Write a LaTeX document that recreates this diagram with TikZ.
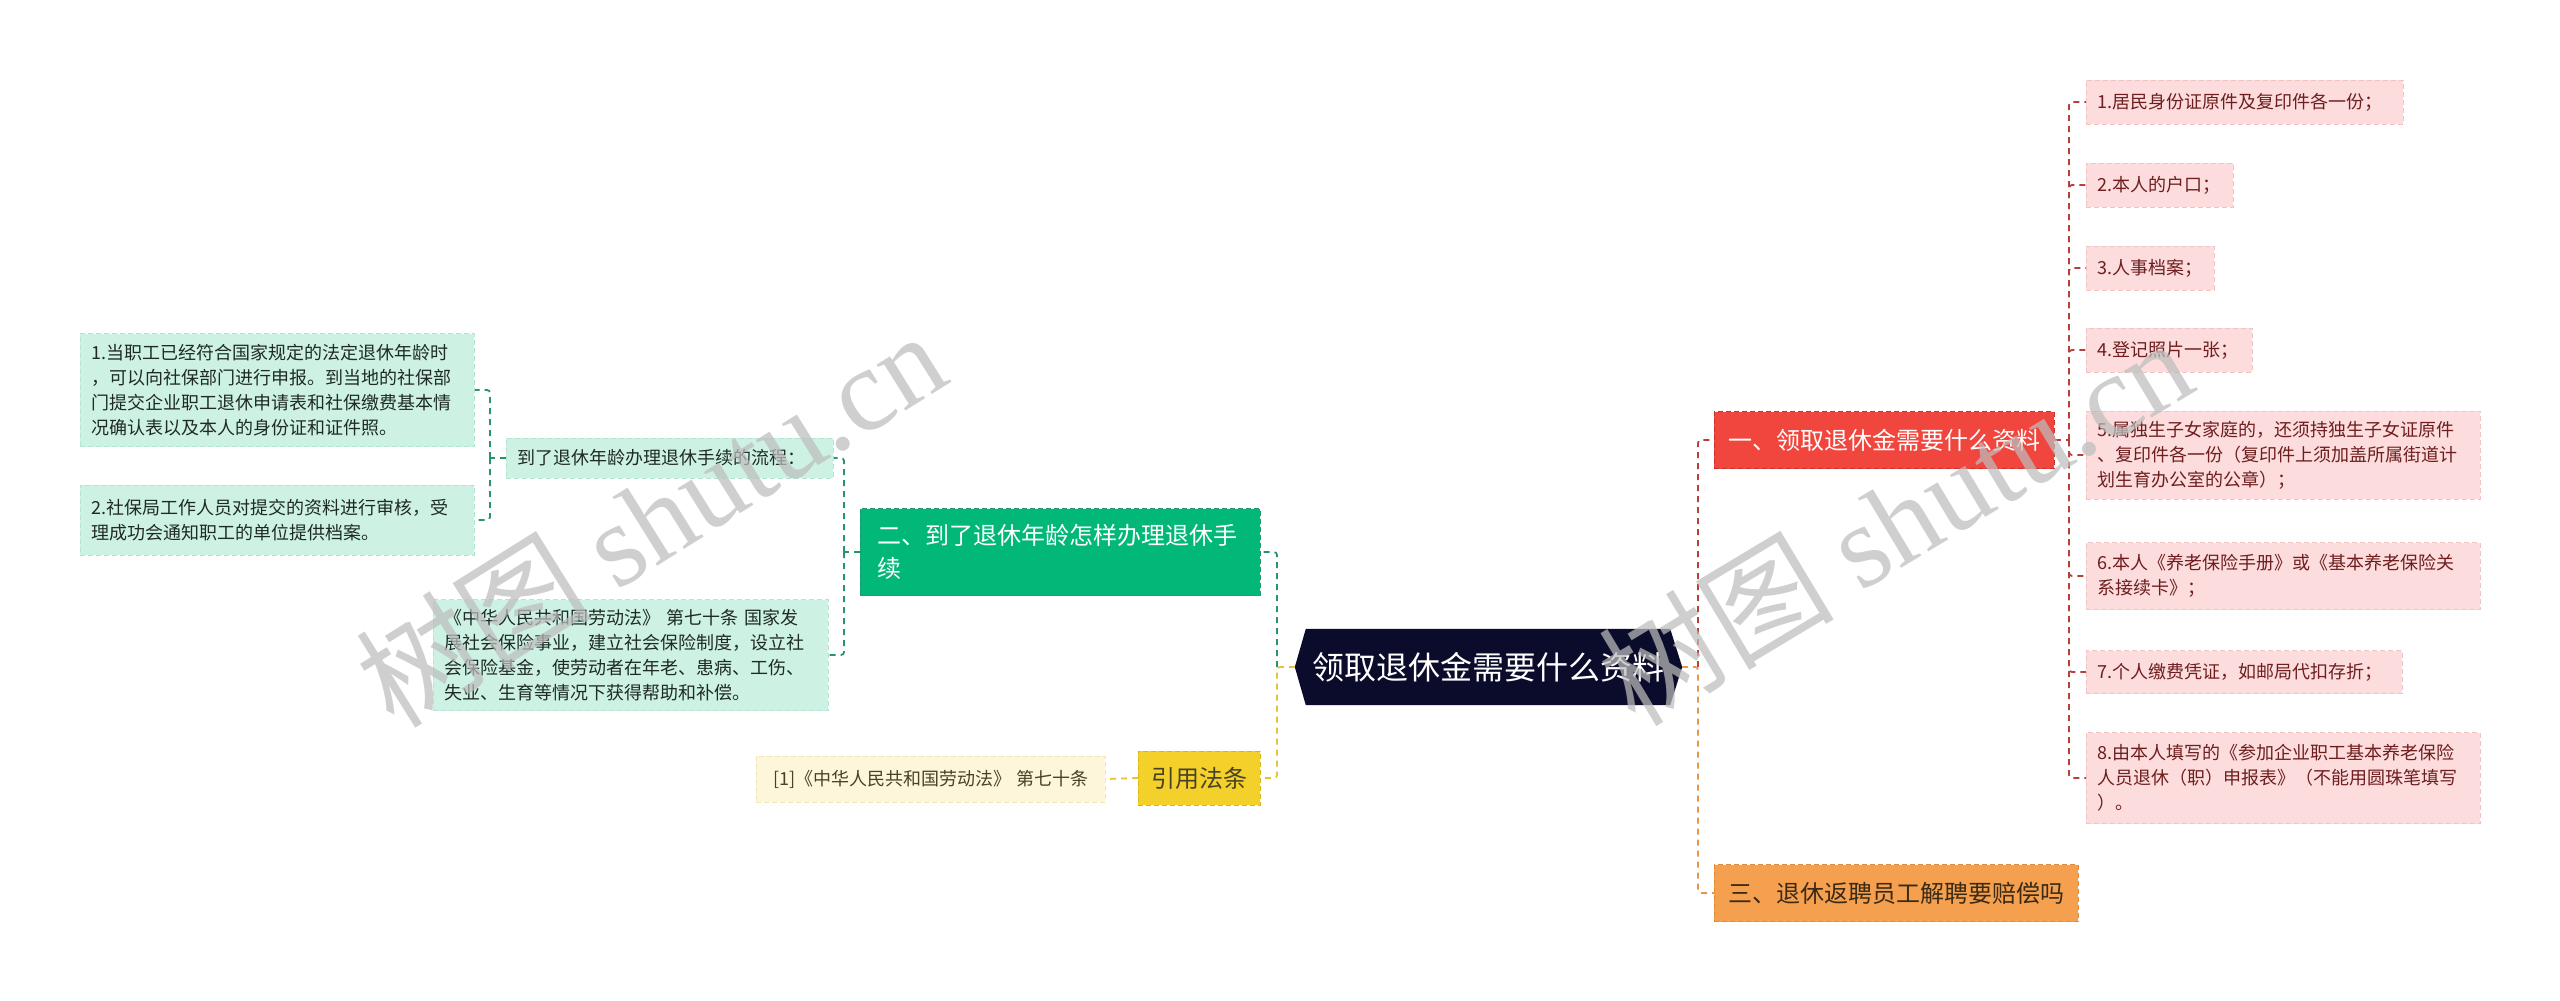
\documentclass[tikz,border=0pt]{standalone}
\usepackage{fontspec}
\setmainfont{Noto Sans CJK SC}
\newfontfamily\wmserif{Liberation Serif}
\usetikzlibrary{backgrounds}
\definecolor{navy}{HTML}{0B0B2B}
\definecolor{redn}{HTML}{F1463E}
\definecolor{redb}{HTML}{C9302A}
\definecolor{redline}{HTML}{B8403A}
\definecolor{pinkf}{HTML}{FCDCDC}
\definecolor{pinkb}{HTML}{F2C3C3}
\definecolor{redtxt}{HTML}{6E1E1E}
\definecolor{orgn}{HTML}{F5A04E}
\definecolor{orgb}{HTML}{E08A38}
\definecolor{orgline}{HTML}{E5974A}
\definecolor{orgtxt}{HTML}{3A2A16}
\definecolor{grnn}{HTML}{02B878}
\definecolor{grnb}{HTML}{1A9E6C}
\definecolor{grnline}{HTML}{27946A}
\definecolor{mintf}{HTML}{CDF2E3}
\definecolor{mintb}{HTML}{B3E5D0}
\definecolor{grntxt}{HTML}{1F2A26}
\definecolor{ylwn}{HTML}{F3D02A}
\definecolor{ylwb}{HTML}{D9B51C}
\definecolor{ylwline}{HTML}{E5C332}
\definecolor{creamf}{HTML}{FDF6DA}
\definecolor{creamb}{HTML}{F1E6B8}
\definecolor{ylwtxt}{HTML}{4A4226}
\definecolor{wmgray}{HTML}{BDBDBD}
\begin{document}
\begin{tikzpicture}[x=1pt,y=-1pt,
  base/.style={anchor=west, inner xsep=11pt, inner ysep=3pt, align=left,
    dash pattern=on 5pt off 3pt, line width=0.8pt},
  leafR/.style={base, fill=pinkf, draw=pinkb, text=redtxt, font=\fontsize{18}{25}\selectfont},
  leafG/.style={base, fill=mintf, draw=mintb, text=grntxt, font=\fontsize{18}{25}\selectfont},
  leafY/.style={base, fill=creamf, draw=creamb, text=ylwtxt, font=\fontsize{18}{25}\selectfont},
  mainR/.style={base, fill=redn, draw=redb, text=white, font=\fontsize{24}{32}\selectfont, inner xsep=14pt},
  mainO/.style={base, fill=orgn, draw=orgb, text=orgtxt, font=\fontsize{24}{32}\selectfont, inner xsep=14pt},
  mainG/.style={base, fill=grnn, draw=grnb, text=white, font=\fontsize{24}{33}\selectfont, inner xsep=17pt},
  mainY/.style={base, fill=ylwn, draw=ylwb, text=ylwtxt, font=\fontsize{24}{32}\selectfont, inner xsep=11pt},
  conn/.style={line width=1.8pt, dash pattern=on 6pt off 5pt, rounded corners=3pt},
  cR/.style={conn, draw=redline},
  cO/.style={conn, draw=orgline},
  cG/.style={conn, draw=grnline},
  cY/.style={conn, draw=ylwline},
  wm/.style={text=wmgray, opacity=0.72, font=\fontsize{118}{125}\selectfont, inner sep=0pt}
]
\begin{scope}[on background layer]
\fill[white] (0,0) rectangle (2560,1001);
\end{scope}
\useasboundingbox (0,0) rectangle (2560,1001);

% central node
\node[anchor=center, text=white, font=\fontsize{32}{36}\selectfont,
  minimum width=387pt, minimum height=76pt, inner sep=0pt] (C) at (1488.5,667) {领取退休金需要什么资料};
\begin{scope}[on background layer]
\fill[navy] (C.west) -- ([xshift=11pt]C.north west) -- ([xshift=-12pt]C.north east)
  -- (C.east) -- ([xshift=-12pt]C.south east) -- ([xshift=11pt]C.south west) -- cycle;
\end{scope}

% right main branches
\node[mainR, minimum width=340pt, minimum height=57pt] (R) at (1714,440) {一、领取退休金需要什么资料};
\node[mainO, minimum width=363pt, minimum height=57pt] (O) at (1714,893) {三、退休返聘员工解聘要赔偿吗};

% red leaves
\node[leafR, minimum width=317pt, minimum height=44pt, text width=295pt] (r1) at (2086,102) {1.居民身份证原件及复印件各一份；};
\node[leafR, minimum width=147pt, minimum height=44pt, text width=125pt] (r2) at (2086,185) {2.本人的户口；};
\node[leafR, minimum width=128pt, minimum height=44pt, text width=106pt] (r3) at (2086,268) {3.人事档案；};
\node[leafR, minimum width=166pt, minimum height=44pt, text width=144pt] (r4) at (2086,350) {4.登记照片一张；};
\node[leafR, minimum width=394pt, minimum height=88pt, text width=372pt] (r5) at (2086,455) {5.属独生子女家庭的，还须持独生子女证原件\\、复印件各一份（复印件上须加盖所属街道计\\划生育办公室的公章）；};
\node[leafR, minimum width=394pt, minimum height=67pt, text width=372pt] (r6) at (2086,576) {6.本人《养老保险手册》或《基本养老保险关\\系接续卡》；};
\node[leafR, minimum width=316pt, minimum height=43pt, text width=294pt] (r7) at (2086,672) {7.个人缴费凭证，如邮局代扣存折；};
\node[leafR, minimum width=394pt, minimum height=91pt, text width=372pt] (r8) at (2086,778) {8.由本人填写的《参加企业职工基本养老保险\\人员退休（职）申报表》（不能用圆珠笔填写\\）。};

% left main branches
\node[mainG, minimum width=400pt, minimum height=87pt, text width=366pt] (G) at (860,552) {二、到了退休年龄怎样办理退休手\\续};
\node[mainY, minimum width=122pt, minimum height=54pt] (Y) at (1138,778) {引用法条};
\node[leafY, minimum width=349pt, minimum height=46pt] (YL) at (756,779) {[1]《中华人民共和国劳动法》 第七十条};

% green children
\node[leafG, minimum width=327pt, minimum height=40pt, text width=305pt] (F) at (506,458) {到了退休年龄办理退休手续的流程：};
\node[leafG, minimum width=395pt, minimum height=111pt, text width=373pt] (K) at (433,655) {《中华人民共和国劳动法》 第七十条 国家发\\展社会保险事业，建立社会保险制度，设立社\\会保险基金，使劳动者在年老、患病、工伤、\\失业、生育等情况下获得帮助和补偿。};
\node[leafG, minimum width=394pt, minimum height=113pt, text width=372pt] (i1) at (80,390) {1.当职工已经符合国家规定的法定退休年龄时\\，可以向社保部门进行申报。到当地的社保部\\门提交企业职工退休申请表和社保缴费基本情\\况确认表以及本人的身份证和证件照。};
\node[leafG, minimum width=394pt, minimum height=70pt, text width=372pt] (i2) at (80,520) {2.社保局工作人员对提交的资料进行审核，受\\理成功会通知职工的单位提供档案。};

% bus coordinates
\coordinate (busL) at (1277,0);
\coordinate (busR) at (1698,0);
\coordinate (busRR) at (2069,0);
\coordinate (busG) at (844,0);
\coordinate (busF) at (490,0);

% connectors
\draw[cY] (C.west) -- (C.west -| busL) |- (Y.east);
\draw[cG] (C.west -| busL) |- (G.east);
\draw[cO] (C.east) -- (C.east -| busR) |- (O.west);
\draw[cR] (C.east -| busR) |- (R.west);
\draw[cR] (R.east) -- (R.east -| busRR);
\foreach \n in {r1,r2,r3,r4,r5,r6,r7,r8}{
  \draw[cR] (R.east -| busRR) |- (\n.west);
}
\draw[cG] (G.west) -- (G.west -| busG);
\draw[cG] (G.west -| busG) |- (F.east);
\draw[cG] (G.west -| busG) |- (K.east);
\draw[cG] (F.west) -- (F.west -| busF);
\draw[cG] (F.west -| busF) |- (i1.east);
\draw[cG] (F.west -| busF) |- (i2.east);
\draw[cY] (Y.west) -- (YL.east);

% watermarks
\node[wm, rotate=32] (wm1) at (650,518) {树图 {\wmserif shutu.cn}};
\node[wm, rotate=31] (wm2) at (1895,520) {树图 {\wmserif shutu.cn}};
\end{tikzpicture}
\end{document}
